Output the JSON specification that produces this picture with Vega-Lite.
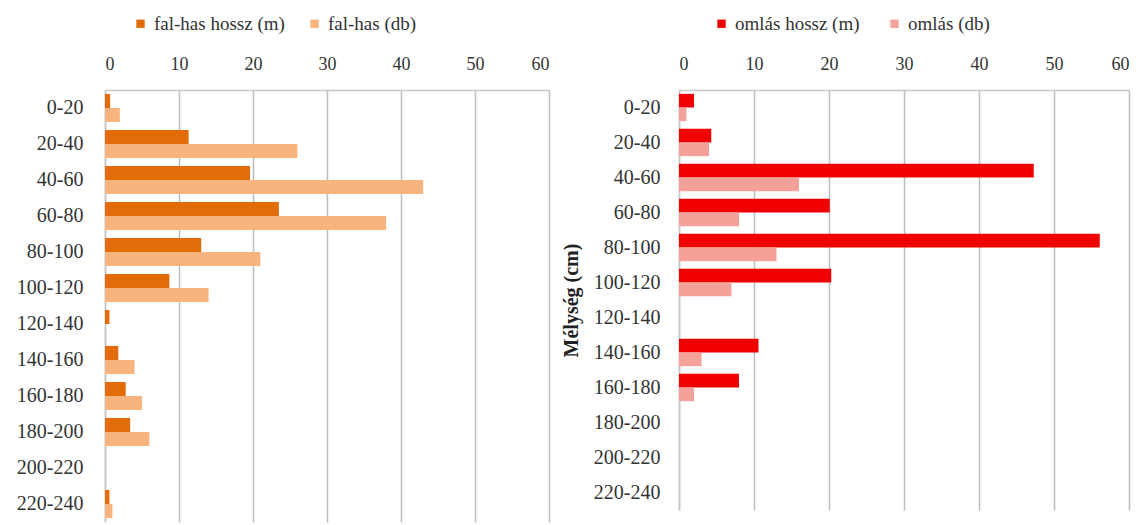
{
  "$schema": "https://vega.github.io/schema/vega-lite/v6.json",
  "background": "white",
  "padding": {"left": 16, "top": 14, "right": 2, "bottom": 2},
  "bounds": "flush",
  "spacing": 130,
  "config": {
    "view": {"stroke": null},
    "font": "Liberation Serif",
    "axis": {
      "labelFont": "Liberation Serif",
      "labelColor": "#333333",
      "titleFont": "Liberation Serif",
      "titleColor": "#222222",
      "ticks": false,
      "domainColor": "#C8C8C8",
      "domainWidth": 1.5,
      "gridColor": "#BDBDBD",
      "gridWidth": 1.5
    },
    "legend": {
      "labelFont": "Liberation Serif",
      "labelColor": "#333333",
      "labelFontSize": 19,
      "symbolType": "square",
      "symbolSize": 70,
      "symbolStrokeWidth": 0,
      "direction": "horizontal",
      "columnPadding": 20
    }
  },
  "datasets": {
    "melyseg": [
      {"panel": "fal-has", "depth": "0-20", "series": "fal-has hossz (m)", "value": 0.7},
      {"panel": "fal-has", "depth": "0-20", "series": "fal-has (db)", "value": 2},
      {"panel": "fal-has", "depth": "20-40", "series": "fal-has hossz (m)", "value": 11.3},
      {"panel": "fal-has", "depth": "20-40", "series": "fal-has (db)", "value": 26},
      {"panel": "fal-has", "depth": "40-60", "series": "fal-has hossz (m)", "value": 19.6},
      {"panel": "fal-has", "depth": "40-60", "series": "fal-has (db)", "value": 43},
      {"panel": "fal-has", "depth": "60-80", "series": "fal-has hossz (m)", "value": 23.5},
      {"panel": "fal-has", "depth": "60-80", "series": "fal-has (db)", "value": 38},
      {"panel": "fal-has", "depth": "80-100", "series": "fal-has hossz (m)", "value": 13.0},
      {"panel": "fal-has", "depth": "80-100", "series": "fal-has (db)", "value": 21},
      {"panel": "fal-has", "depth": "100-120", "series": "fal-has hossz (m)", "value": 8.7},
      {"panel": "fal-has", "depth": "100-120", "series": "fal-has (db)", "value": 14},
      {"panel": "fal-has", "depth": "120-140", "series": "fal-has hossz (m)", "value": 0.6},
      {"panel": "fal-has", "depth": "140-160", "series": "fal-has hossz (m)", "value": 1.8},
      {"panel": "fal-has", "depth": "140-160", "series": "fal-has (db)", "value": 4},
      {"panel": "fal-has", "depth": "160-180", "series": "fal-has hossz (m)", "value": 2.8},
      {"panel": "fal-has", "depth": "160-180", "series": "fal-has (db)", "value": 5},
      {"panel": "fal-has", "depth": "180-200", "series": "fal-has hossz (m)", "value": 3.4},
      {"panel": "fal-has", "depth": "180-200", "series": "fal-has (db)", "value": 6},
      {"panel": "fal-has", "depth": "220-240", "series": "fal-has hossz (m)", "value": 0.6},
      {"panel": "fal-has", "depth": "220-240", "series": "fal-has (db)", "value": 1},
      {"panel": "omlás", "depth": "0-20", "series": "omlás hossz  (m)", "value": 2.0},
      {"panel": "omlás", "depth": "0-20", "series": "omlás (db)", "value": 1},
      {"panel": "omlás", "depth": "20-40", "series": "omlás hossz  (m)", "value": 4.3},
      {"panel": "omlás", "depth": "20-40", "series": "omlás (db)", "value": 4},
      {"panel": "omlás", "depth": "40-60", "series": "omlás hossz  (m)", "value": 47.3},
      {"panel": "omlás", "depth": "40-60", "series": "omlás (db)", "value": 16},
      {"panel": "omlás", "depth": "60-80", "series": "omlás hossz  (m)", "value": 20.1},
      {"panel": "omlás", "depth": "60-80", "series": "omlás (db)", "value": 8},
      {"panel": "omlás", "depth": "80-100", "series": "omlás hossz  (m)", "value": 56.1},
      {"panel": "omlás", "depth": "80-100", "series": "omlás (db)", "value": 13},
      {"panel": "omlás", "depth": "100-120", "series": "omlás hossz  (m)", "value": 20.3},
      {"panel": "omlás", "depth": "100-120", "series": "omlás (db)", "value": 7},
      {"panel": "omlás", "depth": "140-160", "series": "omlás hossz  (m)", "value": 10.6},
      {"panel": "omlás", "depth": "140-160", "series": "omlás (db)", "value": 3},
      {"panel": "omlás", "depth": "160-180", "series": "omlás hossz  (m)", "value": 8.0},
      {"panel": "omlás", "depth": "160-180", "series": "omlás (db)", "value": 2}
    ]
  },
  "resolve": {
    "scale": {"x": "independent", "y": "independent", "yOffset": "independent", "color": "independent"},
    "legend": {"color": "independent"},
    "axis": {"x": "independent", "y": "independent"}
  },
  "hconcat": [
    {
      "width": 444,
      "height": 432,
      "data": {"name": "melyseg"},
      "transform": [{"filter": "datum.panel === 'fal-has'"}],
      "mark": {"type": "bar"},
      "encoding": {
        "y": {
          "field": "depth",
          "type": "nominal",
          "scale": {
            "domain": ["0-20", "20-40", "40-60", "60-80", "80-100", "100-120", "120-140", "140-160", "160-180", "180-200", "200-220", "220-240"],
            "paddingInner": 0.22,
            "paddingOuter": 0.11
          },
          "axis": {"title": null, "labelFontSize": 20, "labelPadding": 22, "grid": false}
        },
        "yOffset": {
          "field": "series",
          "type": "nominal",
          "scale": {"domain": ["fal-has hossz (m)", "fal-has (db)"]}
        },
        "x": {
          "field": "value",
          "type": "quantitative",
          "scale": {"domain": [0, 60], "nice": false},
          "axis": {"orient": "top", "title": null, "values": [0, 10, 20, 30, 40, 50, 60], "labelFontSize": 18, "labelPadding": 17, "grid": true}
        },
        "color": {
          "field": "series",
          "type": "nominal",
          "scale": {"domain": ["fal-has hossz (m)", "fal-has (db)"], "range": ["#E36C0A", "#F8B47E"]},
          "legend": {"title": null, "orient": "none", "legendX": 26, "legendY": -76}
        }
      }
    },
    {
      "width": 450,
      "height": 420,
      "data": {"name": "melyseg"},
      "transform": [{"filter": "datum.panel === 'omlás'"}],
      "mark": {"type": "bar"},
      "encoding": {
        "y": {
          "field": "depth",
          "type": "nominal",
          "scale": {
            "domain": ["0-20", "20-40", "40-60", "60-80", "80-100", "100-120", "120-140", "140-160", "160-180", "180-200", "200-220", "220-240"],
            "paddingInner": 0.22,
            "paddingOuter": 0.11
          },
          "axis": {"title": "Mélység (cm)", "titleFontSize": 20, "titleFontWeight": "bold", "titlePadding": 12, "labelFontSize": 20, "labelPadding": 19, "grid": false}
        },
        "yOffset": {
          "field": "series",
          "type": "nominal",
          "scale": {"domain": ["omlás hossz  (m)", "omlás (db)"]}
        },
        "x": {
          "field": "value",
          "type": "quantitative",
          "scale": {"domain": [0, 60], "nice": false},
          "axis": {"orient": "top", "title": null, "values": [0, 10, 20, 30, 40, 50, 60], "labelFontSize": 18, "labelPadding": 17, "grid": true}
        },
        "color": {
          "field": "series",
          "type": "nominal",
          "scale": {"domain": ["omlás hossz  (m)", "omlás (db)"], "range": ["#F00000", "#F4A19A"]},
          "legend": {"title": null, "orient": "none", "legendX": 33, "legendY": -76}
        }
      }
    }
  ]
}
